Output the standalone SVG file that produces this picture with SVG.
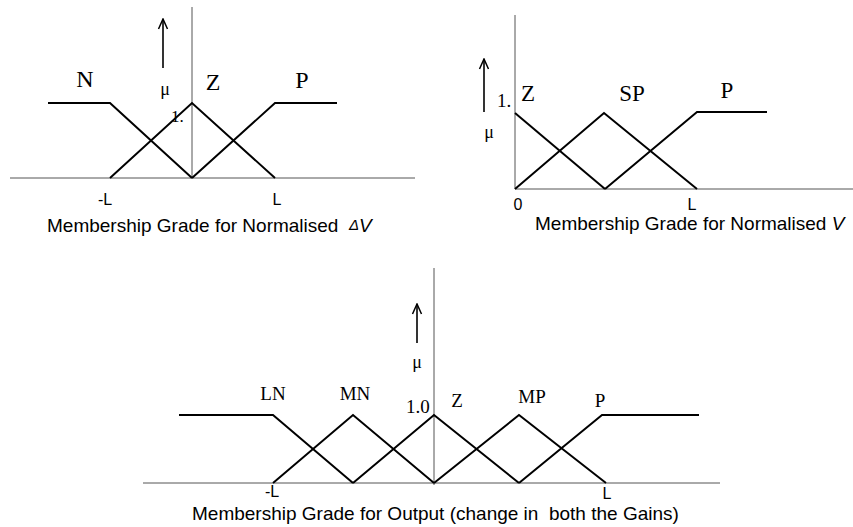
<svg xmlns="http://www.w3.org/2000/svg" width="853" height="527" viewBox="0 0 853 527">
  <style>
    .axis { stroke: #555; stroke-width: 1; fill: none; }
    .mf { stroke: #000; stroke-width: 2; fill: none; stroke-linejoin: miter; }
    .arrow { stroke: #000; stroke-width: 1.6; fill: none; }
    .lbl { font-family: "Liberation Serif", "Times New Roman", serif; fill: #000; }
    .tick { font-family: "Liberation Sans", Arial, sans-serif; font-size: 16px; fill: #000; text-anchor: middle; }
    .cap { font-family: "Liberation Sans", Arial, sans-serif; font-size: 19px; fill: #000; white-space: pre; }
  </style>
  <defs>
    <!-- open V head; drawn along +x so orient="auto" points it along the shaft -->
    <marker id="open-head" viewBox="0 0 12 12" refX="11" refY="6" markerWidth="12" markerHeight="12" markerUnits="userSpaceOnUse" orient="auto">
      <path d="M1,1.5 L11,6 L1,10.5" fill="none" stroke="#000" stroke-width="1.5"/>
    </marker>
  </defs>

  <!-- Panel 1: normalised delta V -->
  <g id="dv-axes">
    <line class="axis" x1="10" y1="178" x2="415" y2="178"/>
    <line class="axis" x1="192" y1="7" x2="192" y2="178"/>
    <line class="arrow" x1="163" y1="68" x2="163" y2="19" marker-end="url(#open-head)"/>
    <text class="lbl" x="165" y="95" font-size="18" text-anchor="middle">μ</text>
    <text class="lbl" x="171" y="122" font-size="17">1.</text>
    <text class="tick" x="105" y="205">-L</text>
    <text class="tick" x="277" y="205">L</text>
  </g>
  <g id="dv-N">
    <polyline class="mf" points="48,103 110,103 192,178"/>
    <text class="lbl" x="85" y="87" font-size="24" text-anchor="middle">N</text>
  </g>
  <g id="dv-Z">
    <polyline class="mf" points="110,178 192,103 275,178"/>
    <text class="lbl" x="213" y="90" font-size="24" text-anchor="middle">Z</text>
  </g>
  <g id="dv-P">
    <polyline class="mf" points="192,178 275,103 337,103"/>
    <text class="lbl" x="302" y="88" font-size="24" text-anchor="middle">P</text>
  </g>
  <text class="cap" x="47" y="232">Membership Grade for Normalised  <tspan font-style="italic" font-size="15" dy="-2">Δ</tspan><tspan font-style="italic" dy="2">V</tspan></text>

  <!-- Panel 2: normalised V -->
  <g id="v-axes">
    <line class="axis" x1="515" y1="15" x2="515" y2="189"/>
    <line class="axis" x1="515" y1="189" x2="853" y2="189"/>
    <line class="arrow" x1="484" y1="112" x2="484" y2="59" marker-end="url(#open-head)"/>
    <text class="lbl" x="489" y="138" font-size="18" text-anchor="middle">μ</text>
    <text class="lbl" x="497" y="107" font-size="19">1.</text>
    <text class="tick" x="518" y="210">0</text>
    <text class="tick" x="692" y="210">L</text>
  </g>
  <g id="v-Z">
    <polyline class="mf" points="515,113 605,189"/>
    <text class="lbl" x="528" y="101" font-size="23" text-anchor="middle">Z</text>
  </g>
  <g id="v-SP">
    <polyline class="mf" points="515,189 604,113 697,189"/>
    <text class="lbl" x="632" y="101" font-size="23" text-anchor="middle">SP</text>
  </g>
  <g id="v-P">
    <polyline class="mf" points="605,189 697,112 767,112"/>
    <text class="lbl" x="727" y="98" font-size="23" text-anchor="middle">P</text>
  </g>
  <text class="cap" x="535" y="230">Membership Grade for Normalised <tspan font-style="italic">V</tspan></text>

  <!-- Panel 3: output -->
  <g id="out-axes">
    <line class="axis" x1="143" y1="483" x2="720" y2="483"/>
    <line class="axis" x1="434" y1="268" x2="434" y2="485"/>
    <line class="arrow" x1="417" y1="343" x2="417" y2="304" marker-end="url(#open-head)"/>
    <text class="lbl" x="417" y="368" font-size="18" text-anchor="middle">μ</text>
    <text class="lbl" x="406" y="413" font-size="19">1.0</text>
    <text class="tick" x="272" y="497">-L</text>
    <text class="tick" x="607" y="499">L</text>
  </g>
  <g id="out-LN">
    <polyline class="mf" points="179,415 273,415 353,483"/>
    <text class="lbl" x="273" y="400" font-size="19" text-anchor="middle">LN</text>
  </g>
  <g id="out-MN">
    <polyline class="mf" points="273,483 353,415 434,483"/>
    <text class="lbl" x="355" y="400" font-size="19" text-anchor="middle">MN</text>
  </g>
  <g id="out-Z">
    <polyline class="mf" points="353,483 434,415 519,483"/>
    <text class="lbl" x="457" y="407" font-size="19" text-anchor="middle">Z</text>
  </g>
  <g id="out-MP">
    <polyline class="mf" points="434,483 519,415 606,483"/>
    <text class="lbl" x="532" y="403" font-size="19" text-anchor="middle">MP</text>
  </g>
  <g id="out-P">
    <polyline class="mf" points="519,483 602,415 699,415"/>
    <text class="lbl" x="600" y="407" font-size="19" text-anchor="middle">P</text>
  </g>
  <text class="cap" x="192" y="520">Membership Grade for Output (change in  both the Gains)</text>
</svg>
